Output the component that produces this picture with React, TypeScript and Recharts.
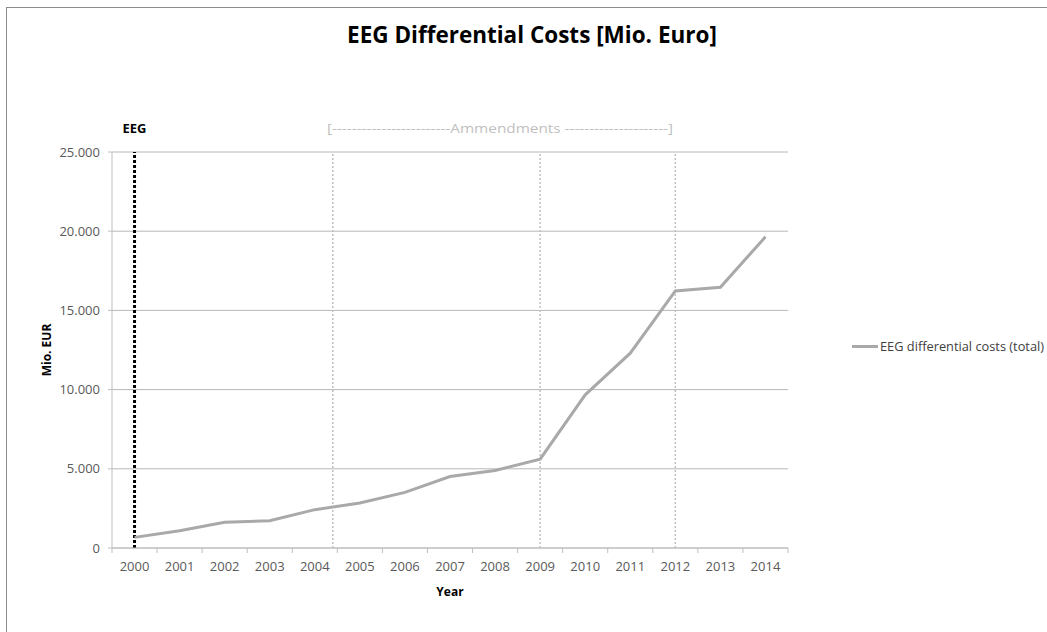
import React from 'react';
import {
  LineChart,
  Line,
  XAxis,
  YAxis,
  CartesianGrid,
  ReferenceLine,
} from 'recharts';

// values
const years = [2000, 2001, 2002, 2003, 2004, 2005, 2006, 2007, 2008, 2009, 2010, 2011, 2012, 2013, 2014];
const diffCosts = [670, 1090, 1620, 1720, 2420, 2840, 3510, 4510, 4890, 5610, 9670, 12300, 16230, 16460, 19650];
const yTicks = [0, 5000, 10000, 15000, 20000, 25000];
const amendmentYears = [2004.4, 2009, 2012];
const eegYear = 2000;

const seriesName = 'EEG differential costs (total)';
const FONT = '"Open Sans", Roboto, sans-serif';
const TICK_SIZE = 8;
const TICK_MARGIN = 6;

const chartData = years.map((year, i) => ({ year, cost: diffCosts[i] }));

const fmt = (v: number) => v.toLocaleString('de-DE');

function YearTick(props: any) {
  const { x, y, payload, index, width } = props;
  const half = width / years.length / 2;
  const axisY = y - TICK_SIZE - TICK_MARGIN;
  return (
    <g>
      {index === 0 && (
        <line x1={x - half} x2={x - half} y1={axisY} y2={axisY + 5} stroke="#bfbfbf" />
      )}
      <line x1={x + half} x2={x + half} y1={axisY} y2={axisY + 5} stroke="#bfbfbf" />
      <text x={x} y={y} dy="0.71em" textAnchor="middle" fontSize={13} fill="#595959" fontFamily={FONT}>
        {payload.value}
      </text>
    </g>
  );
}

export default function App() {
  return (
    <div
      style={{
        position: 'absolute',
        left: 0,
        top: 0,
        width: 1047,
        height: 632,
        overflow: 'hidden',
        background: '#fff',
        fontFamily: FONT,
      }}
    >
      <div
        style={{
          position: 'absolute',
          left: 282,
          width: 500,
          top: 19,
          textAlign: 'center',
          fontSize: 22.5,
          fontWeight: 'bold',
          color: '#000',
        }}
      >
        EEG Differential Costs [Mio. Euro]
      </div>

      <div style={{ position: 'absolute', left: 0, top: 0 }}>
        <LineChart
          width={1047}
          height={632}
          data={chartData}
          margin={{ top: 152, right: 259, left: 0, bottom: 0 }}
        >
          <CartesianGrid vertical={false} stroke="#b8b8b8" />
          <XAxis
            type="number"
            dataKey="year"
            domain={[1999.5, 2014.5]}
            ticks={years}
            interval={0}
            height={84}
            tickSize={TICK_SIZE}
            tickMargin={TICK_MARGIN}
            tickLine={false}
            axisLine={{ stroke: '#bfbfbf' }}
            tick={<YearTick />}
            label={{
              value: 'Year',
              position: 'insideBottom',
              offset: 36,
              style: { fontSize: 12, fontWeight: 'bold', fill: '#000' },
            }}
          />
          <YAxis
            domain={[0, 25000]}
            ticks={yTicks}
            width={112}
            tickSize={4}
            tickMargin={8}
            tickFormatter={fmt}
            tick={{ fontSize: 13, fill: '#595959' }}
            tickLine={{ stroke: '#bfbfbf' }}
            axisLine={{ stroke: '#bfbfbf' }}
            label={{
              value: 'Mio. EUR',
              angle: -90,
              position: 'insideLeft',
              offset: 47,
              style: { fontSize: 12, fontWeight: 'bold', fill: '#000', textAnchor: 'middle' },
            }}
          />
          {amendmentYears.map((yr) => (
            <ReferenceLine
              key={yr}
              x={yr}
              stroke="#c0c0c0"
              strokeWidth={1.5}
              strokeDasharray="2 2"
              ifOverflow="extendDomain"
            />
          ))}
          <ReferenceLine
            x={eegYear}
            stroke="#000"
            strokeWidth={3}
            strokeDasharray="3 2"
            label={{
              value: 'EEG',
              position: 'top',
              offset: 19,
              style: { fontSize: 13, fontWeight: 'bold', fill: '#000' },
            }}
          />
          <Line
            type="linear"
            dataKey="cost"
            name={seriesName}
            stroke="#a9a9a9"
            strokeWidth={3}
            dot={false}
            isAnimationActive={false}
          />
        </LineChart>
      </div>

      <svg
        width={1047}
        height={632}
        style={{ position: 'absolute', left: 0, top: 0, pointerEvents: 'none' }}
      >
        <rect x={6.5} y={7.5} width={1100} height={700} fill="none" stroke="#8c8c8c" />
        <text
          x={327}
          y={133}
          fontSize={13}
          fill="#bfbfbf"
          textLength={346}
          lengthAdjust="spacingAndGlyphs"
          fontFamily={FONT}
        >
          [------------------------Ammendments ---------------------]
        </text>
      </svg>

      <div
        style={{
          position: 'absolute',
          left: 852,
          top: 337,
          display: 'flex',
          alignItems: 'center',
          whiteSpace: 'nowrap',
          fontSize: 12.8,
          color: '#404040',
        }}
      >
        <span
          style={{
            display: 'inline-block',
            width: 26,
            height: 3,
            background: '#a9a9a9',
            marginRight: 2,
          }}
        />
        <span>{seriesName}</span>
      </div>
    </div>
  );
}
